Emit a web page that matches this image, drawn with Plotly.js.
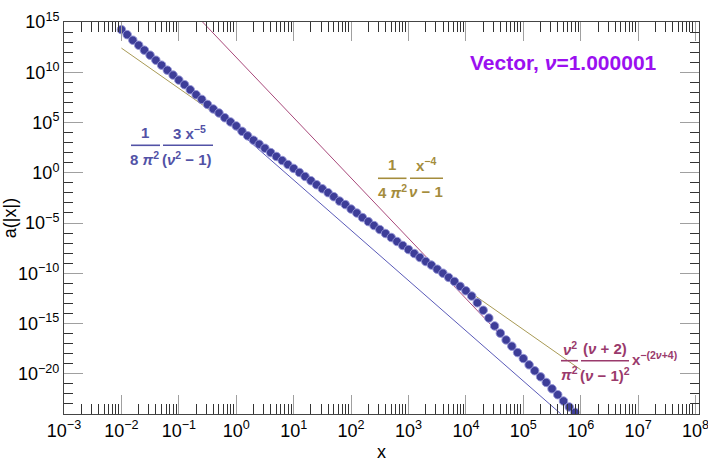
<!DOCTYPE html>
<html>
<head>
<meta charset="utf-8">
<script src="https://cdn.plot.ly/plotly-3.0.1.min.js"></script>
<style>html,body{margin:0;padding:0;background:#fff;}#chart{width:708px;height:462px;}</style>
</head>
<body>
<div id="chart"></div>
<script>
// ---- data ----
const pointX = [
  1e-2,1.26e-2,1.58e-2,2.0e-2,2.51e-2,3.16e-2,3.98e-2,5.01e-2,6.31e-2,7.94e-2,
  1e-1,1.26e-1,1.58e-1,2.0e-1,2.51e-1,3.16e-1,3.98e-1,5.01e-1,6.31e-1,7.94e-1,
  1e0,1.26e0,1.58e0,2.0e0,2.51e0,3.16e0,3.98e0,5.01e0,6.31e0,7.94e0,
  1e1,1.26e1,1.58e1,2.0e1,2.51e1,3.16e1,3.98e1,5.01e1,6.31e1,7.94e1,
  1e2,1.26e2,1.58e2,2.0e2,2.51e2,3.16e2,3.98e2,5.01e2,6.31e2,7.94e2,
  1e3,1.26e3,1.58e3,2.0e3,2.51e3,3.16e3,3.98e3,5.01e3,6.31e3,7.94e3,
  1e4,1.26e4,1.58e4,2.0e4,2.51e4,3.16e4,3.98e4,5.01e4,6.31e4,7.94e4,
  1e5,1.26e5,1.58e5,2.0e5,2.51e5,3.16e5,3.98e5,5.01e5,6.31e5,7.94e5
];
const pointY = [
  1.74e14,5.5e13,1.55e13,4.9e12,1.58e12,5.0e11,1.58e11,5.1e10,1.62e10,5.2e9,
  1.66e9,5.8e8,1.82e8,5.8e7,2.0e7,6.3e6,2.24e6,8.9e5,3.0e5,1.15e5,
  4.6e4,1.32e4,4.7e3,1.74e3,692,275,102,41.7,16.6,6.6,
  2.69,1.07,0.427,0.162,0.0646,0.0257,0.0105,4.17e-3,1.51e-3,6.8e-4,
  2.45e-4,9.8e-5,3.47e-5,1.38e-5,5.6e-6,2.24e-6,9.1e-7,3.63e-7,1.45e-7,5.8e-8,
  2.29e-8,9.3e-9,3.72e-9,1.48e-9,6.5e-10,2.57e-10,1.02e-10,3.9e-11,1.55e-11,5.0e-12,
  1.82e-12,5.4e-13,1.15e-13,2.09e-14,3.5e-15,5.8e-16,1.1e-16,2.34e-17,5.6e-18,1.29e-18,
  3.3e-19,7.8e-20,2.0e-20,5.0e-21,1.38e-21,3.2e-22,8.3e-23,1.95e-23,5.0e-24,1.45e-24
];
// asymptote lines (end points)
const blueLineX = [1e-2, 4.5e5];
const blueLineY = [1.9e14, 1.03e-24];
const oliveLineX = [1e-2, 1e6];
const oliveLineY = [2.53e12, 2.53e-20];
const purpleLineX = [0.2, 1e6];
const purpleLineY = [4.75e15, 3.04e-25];
// ticks
const xTickVals = [1e-3,1e-2,1e-1,1e0,1e1,1e2,1e3,1e4,1e5,1e6,1e7,1e8];
const xTickText = ['10<sup>−3</sup>','10<sup>−2</sup>','10<sup>−1</sup>','10<sup>0</sup>','10<sup>1</sup>','10<sup>2</sup>','10<sup>3</sup>','10<sup>4</sup>','10<sup>5</sup>','10<sup>6</sup>','10<sup>7</sup>','10<sup>8</sup>'];
const yTickVals = [1e-20,1e-15,1e-10,1e-5,1e0,1e5,1e10,1e15];
const yTickText = ['10<sup>−20</sup>','10<sup>−15</sup>','10<sup>−10</sup>','10<sup>−5</sup>','10<sup>0</sup>','10<sup>5</sup>','10<sup>10</sup>','10<sup>15</sup>'];

// minor tick positions
const xMinor = [];
for (let e = -3; e <= 8; e++) for (let m = 2; m <= 9; m++) xMinor.push(m * Math.pow(10, e));
const yMinor = [];
for (let e = -24; e <= 15; e++) yMinor.push(Math.pow(10, e));

// ---- layout helpers (pixel -> paper) ----
const L = 64, T = 22, W = 635, H = 392;
const px = x => (x - L) / W;
const py = y => (T + H - y) / H;

const FONT = 'Liberation Sans, Arial, sans-serif';
const BLUE_T = '#5252a6', OLIVE_T = '#a48c3c', PURP_T = '#9a3a6c';

function ann(text, x, y, color, size, extra) {
  return Object.assign({
    text: text, xref: 'paper', yref: 'paper', x: px(x), y: py(y),
    xanchor: 'center', yanchor: 'middle', showarrow: false,
    font: {family: FONT, size: size || 14, color: color, weight: 'bold'}
  }, extra || {});
}
function bar(x0, x1, y, color) {
  return {type: 'line', xref: 'paper', yref: 'paper', x0: px(x0), x1: px(x1), y0: py(y), y1: py(y),
          line: {color: color, width: 1.6}};
}

const traces = [
  {x: blueLineX, y: blueLineY, mode: 'lines', line: {color: '#5a5ab8', width: 1}, hoverinfo: 'skip'},
  {x: oliveLineX, y: oliveLineY, mode: 'lines', line: {color: '#a89a55', width: 1}, hoverinfo: 'skip'},
  {x: purpleLineX, y: purpleLineY, mode: 'lines', line: {color: '#a8487a', width: 1}, hoverinfo: 'skip'},
  {x: pointX, y: pointY, mode: 'markers',
   marker: {size: 8.5, color: '#3d3d98', line: {color: 'rgba(150,150,215,0.9)', width: 1}}}
];

const axisCommon = {
  type: 'log', showgrid: false, zeroline: false,
  showline: true, linecolor: '#444', linewidth: 1, mirror: 'allticks',
  ticks: 'inside', ticklen: 19, tickcolor: '#a0a0a0', tickwidth: 1,
  tickfont: {family: FONT, size: 18, color: '#000'},
  tickmode: 'array', ticklabeloverflow: 'allow'
};

const layout = {
  width: 708, height: 462,
  margin: {l: L, r: 708 - L - W, t: T, b: 462 - T - H},
  paper_bgcolor: '#fff', plot_bgcolor: '#fff',
  showlegend: false,
  xaxis: Object.assign({}, axisCommon, {
    range: [-3, 8.06], tickvals: xTickVals, ticktext: xTickText,
    minor: {tickmode: 'array', tickvals: xMinor, ticks: 'inside', ticklen: 10, tickcolor: '#333', tickwidth: 1},
    title: {text: 'x', font: {family: FONT, size: 18, color: '#000'}, standoff: 6}
  }),
  yaxis: Object.assign({}, axisCommon, {
    range: [-24, 15], tickvals: yTickVals, ticktext: yTickText,
    minor: {tickmode: 'array', tickvals: yMinor, ticks: 'inside', ticklen: 9, tickcolor: '#333', tickwidth: 1},
    title: {text: 'a(|x|)', font: {family: FONT, size: 18, color: '#000'}, standoff: 4}
  }),
  annotations: [
    ann('Vector, <i>ν</i>=1.000001', 563, 62, '#9b10f0', 21),
    // blue formula
    ann('1', 145, 132, BLUE_T, 15),
    ann('8 <i>π</i><sup>2</sup>', 144, 158, BLUE_T, 15),
    ann('3 x<sup>−5</sup>', 189, 132, BLUE_T, 15),
    ann('(<i>ν</i><sup>2</sup> − 1)', 187, 158, BLUE_T, 15),
    // olive formula
    ann('1', 392, 164, OLIVE_T, 15),
    ann('4 <i>π</i><sup>2</sup>', 392, 191, OLIVE_T, 15),
    ann('x<sup>−4</sup>', 426, 164, OLIVE_T, 15),
    ann('<i>ν</i> − 1', 426, 191, OLIVE_T, 15),
    // purple formula
    ann('<i>ν</i><sup>2</sup>', 570, 348, PURP_T, 15),
    ann('<i>π</i><sup>2</sup>', 569, 373, PURP_T, 15),
    ann('(<i>ν</i> + 2)', 605, 348, PURP_T, 15),
    ann('(<i>ν</i> − 1)<sup>2</sup>', 605, 374, PURP_T, 15),
    ann('x<sup>−(2<i>ν</i>+4)</sup>', 630, 358, PURP_T, 15, {xanchor: 'left'})
  ],
  shapes: [
    bar(131, 160, 145.3, BLUE_T), bar(163, 213, 145.3, BLUE_T),
    bar(378, 406.5, 178.3, OLIVE_T), bar(410, 443, 178.3, OLIVE_T),
    bar(561, 578, 360.7, PURP_T), bar(581, 629, 360.7, PURP_T)
  ]
};

Plotly.newPlot('chart', traces, layout, {displayModeBar: false, staticPlot: true});
</script>
</body>
</html>
